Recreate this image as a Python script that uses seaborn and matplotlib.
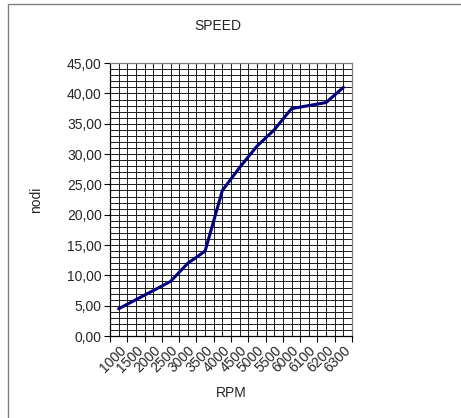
import numpy as np
import pandas as pd
import seaborn as sns
import matplotlib
matplotlib.use("Agg")
import matplotlib.pyplot as plt
from matplotlib.ticker import MultipleLocator, FixedLocator, FuncFormatter
from matplotlib.patches import Rectangle

# data
rpm = ["1000", "1500", "2000", "2500", "3000", "3500", "4000",
       "4500", "5000", "5500", "6000", "6100", "6200", "6300"]
nodi = [4.5, 6.0, 7.5, 9.0, 12.0, 14.0, 24.0,
        27.8, 31.3, 34.0, 37.5, 38.0, 38.5, 41.0]

df = pd.DataFrame({"RPM": rpm, "nodi": nodi})

sns.set_style("white")
plt.rcParams['font.family'] = ['Liberation Sans', 'DejaVu Sans']

fig = plt.figure(figsize=(4.61, 4.18), dpi=100)
ax = fig.add_axes([0.2386, 0.196, 0.525, 0.653])

sns.lineplot(data=df, x="RPM", y="nodi", color="#000080", linewidth=2.2, ax=ax, sort=False)

n = len(rpm)
ax.set_xlim(-0.5, n - 0.5)
ax.set_ylim(0, 45)

# x: labels at category centres, tick marks at boundaries
ax.xaxis.set_major_locator(FixedLocator(np.arange(n)))
ax.set_xticklabels(rpm)
ax.xaxis.set_minor_locator(FixedLocator(np.arange(n + 1) - 0.5))
ax.tick_params(axis="x", which="major", length=0, labelsize=10, pad=5)
ax.tick_params(axis="x", which="minor", length=4, width=0.8, color="black", bottom=True)
for lab in ax.get_xticklabels():
    lab.set_rotation(45)
    lab.set_ha("right")
    lab.set_rotation_mode("anchor")

# y: labels every 5, grid every 1
ax.yaxis.set_major_locator(MultipleLocator(5))
ax.yaxis.set_minor_locator(MultipleLocator(1))
ax.yaxis.set_major_formatter(FuncFormatter(lambda v, p: f"{v:.2f}".replace(".", ",")))
ax.tick_params(axis="y", which="major", length=4, width=0.8, color="black", labelsize=10, pad=2, left=True)
ax.tick_params(axis="y", which="minor", length=0)

ax.grid(True, which="both", color="#1a1a1a", linewidth=0.7)
ax.set_axisbelow(True)

for side in ["left", "bottom"]:
    ax.spines[side].set_color("black")
    ax.spines[side].set_linewidth(0.9)
for side in ["top", "right"]:
    ax.spines[side].set_color("#808080")
    ax.spines[side].set_linewidth(0.9)

ax.set_xlabel("RPM", fontsize=10, labelpad=8)
ax.set_ylabel("nodi", fontsize=10, labelpad=17)
fig.text(218 / 461, 1 - 26 / 418, "SPEED", fontsize=10, ha="center", va="center")

# outer chart frame, cut at the right and bottom edges
fig.patches.append(Rectangle((8 / 461, -0.1), 1.2, 1 - 3.5 / 418 + 0.1,
                             transform=fig.transFigure, fill=False,
                             edgecolor="#808080", linewidth=1.0))

fig.savefig("out.png", dpi=100)
